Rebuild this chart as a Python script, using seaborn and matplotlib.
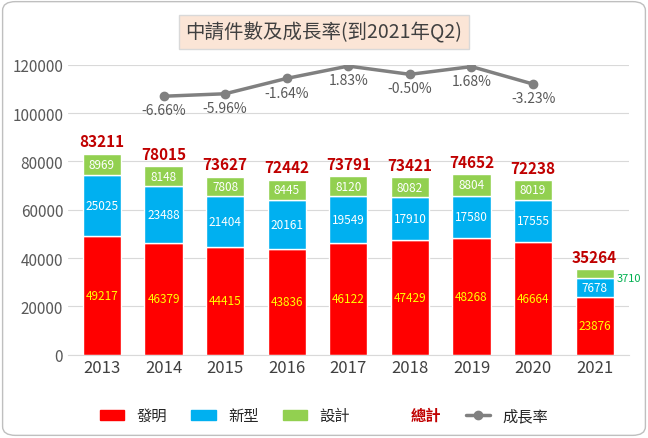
import numpy as np
import pandas as pd
import matplotlib
matplotlib.use('Agg')
import matplotlib.pyplot as plt
import seaborn as sns
from matplotlib.patches import Patch, FancyBboxPatch
from matplotlib.lines import Line2D

years = ['2013', '2014', '2015', '2016', '2017', '2018', '2019', '2020', '2021']
invention = [49217, 46379, 44415, 43836, 46122, 47429, 48268, 46664, 23876]
utility = [25025, 23488, 21404, 20161, 19549, 17910, 17580, 17555, 7678]
design = [8969, 8148, 7808, 8445, 8120, 8082, 8804, 8019, 3710]
totals = [83211, 78015, 73627, 72442, 73791, 73421, 74652, 72238, 35264]
growth_years = ['2014', '2015', '2016', '2017', '2018', '2019', '2020']
growth = [-6.66, -5.96, -1.64, 1.83, -0.50, 1.68, -3.23]

sns.set_style('white')
plt.rcParams['font.family'] = ['Noto Sans CJK TC', 'DejaVu Sans']

fig = plt.figure(figsize=(6.48, 4.39), dpi=100)
ax = fig.add_axes([0.105, 0.19, 0.865, 0.66])
x = np.arange(len(years))
red, blue, green = '#ff0000', '#00b0f0', '#92d050'
w = 0.62
ax.bar(x, invention, w, color=red)
ax.bar(x, utility, w, bottom=invention, color=blue)
b2 = np.array(invention) + np.array(utility)
ax.bar(x, design, w, bottom=b2, color=green)

for i in range(len(years)):
    ax.text(x[i], invention[i] / 2, str(invention[i]), ha='center', va='center', color='#ffff00', fontsize=8.5)
    ax.text(x[i], invention[i] + utility[i] / 2, str(utility[i]), ha='center', va='center', color='white', fontsize=8.5)
    if i < len(years) - 1:
        ax.text(x[i], b2[i] + design[i] / 2, str(design[i]), ha='center', va='center', color='white', fontsize=8.5)
    else:
        ax.text(x[i] + 0.35, b2[i] + design[i] / 2 - 1500, str(design[i]), ha='left', va='center', color='#00b050', fontsize=8)
    ax.text(x[i], totals[i] + 1800, str(totals[i]), ha='center', va='bottom', color='#c00000', fontsize=11, fontweight='bold')

ax.set_ylim(0, 120000)
ax.set_xlim(-0.55, len(years) - 0.45)
ax.set_yticks(range(0, 120001, 20000))
ax.set_xticks(x)
ax.set_xticklabels(years, fontsize=12, color='#404040')
ax.tick_params(axis='y', labelsize=11, labelcolor='#595959', length=0)
ax.tick_params(axis='x', length=0)
ax.yaxis.grid(True, color='#d9d9d9', linewidth=0.8)
ax.set_axisbelow(True)
for s in ['top', 'right', 'left']:
    ax.spines[s].set_visible(False)
ax.spines['bottom'].set_color('#d9d9d9')

# growth line on hidden secondary axis
ax2 = ax.twinx()
a, b = 116800, 1472
ax2.set_ylim((0 - a) / b, (120000 - a) / b)
gx = [years.index(y) for y in growth_years]
ax2.plot(gx, growth, color='#808080', marker='o', markersize=6, linewidth=2.5)
for xi, g in zip(gx, growth):
    ax2.text(xi, g - 2.0, f'{g:.2f}%', ha='center', va='top', color='#595959', fontsize=10)
ax2.axis('off')

fig.text(0.5, 0.925, '中請件數及成長率(到2021年Q2)', ha='center', va='center', fontsize=14,
         color='#404040', bbox=dict(boxstyle='square,pad=0.35', fc='#fbe5d6', ec='#d9d9d9'))

handles = [Patch(color=red), Patch(color=blue), Patch(color=green),
           Patch(color='none'),
           Line2D([], [], color='#808080', marker='o', linewidth=2.5)]
labels = ['發明', '新型', '設計', '總計', '成長率']
leg = fig.legend(handles, labels, loc='lower center', bbox_to_anchor=(0.5, 0.0), ncol=5,
                 frameon=False, fontsize=11, handlelength=1.6, columnspacing=1.6)
t = leg.get_texts()[3]
t.set_color('#c00000')
t.set_fontweight('bold')

fig.patches.append(FancyBboxPatch((0.004, 0.006), 0.992, 0.988, boxstyle='round,pad=0,rounding_size=0.02',
                                  transform=fig.transFigure, fc='none', ec='#bfbfbf', lw=1))
fig.savefig('out.png', dpi=100)
